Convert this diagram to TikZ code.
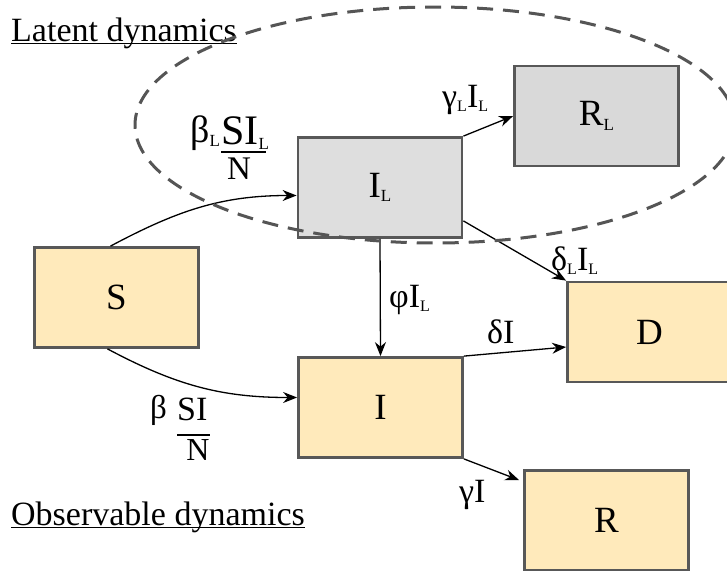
\documentclass[tikz,border=0pt]{standalone}
\usepackage{fontspec}
\setmainfont{Liberation Serif}
\usetikzlibrary{arrows.meta}
\definecolor{peach}{HTML}{FFEABB}
\definecolor{latgrayA}{HTML}{DEDEDE}
\definecolor{latgrayB}{HTML}{D9D9D9}
\definecolor{boxline}{HTML}{585858}
\definecolor{ellline}{HTML}{555555}
\newcommand\lsub[1]{\raisebox{-0.12em}{\fontsize{#1}{#1}\selectfont L}}
\tikzset{
  compbox/.style={draw=boxline, line width=2.8pt, minimum width=164pt, minimum height=100pt, inner sep=0pt, font=\fontsize{37}{42}\selectfont},
  obsbox/.style={compbox, fill=peach},
  latbox/.style={compbox, fill=latgrayA},
  flow/.style={-{Stealth[length=14pt,width=11pt]}, line width=1.3pt},
  flowlab/.style={inner sep=0pt, anchor=base west, font=\fontsize{34}{38}\selectfont},
  title/.style={inner sep=0pt, anchor=base west, font=\fontsize{34}{40}\selectfont},
  ell/.style={draw=ellline, line width=3pt, dash pattern=on 16pt off 10pt}
}
\begin{document}
\begin{tikzpicture}[x=1pt, y=-1pt]
\clip (0,0) rectangle (727,570);
\fill[white] (0,0) rectangle (727,570);
% boxes
\node[obsbox] (S) at (116.5,297.5) {S};
\node[latbox] (IL) at (380,187.5) {I\lsub{17}};
\node[latbox, fill=latgrayB] (RL) at (596.5,116) {R\lsub{17}};
\node[obsbox] (D) at (649.5,332) {D};
\node[obsbox] (I) at (380.5,407.5) {I};
\node[obsbox] (R) at (606.5,520.5) {R};
% titles
\node[title] (lat) at (11,41) {Latent dynamics};
\draw[line width=1.4pt] ([yshift=-2.5pt]lat.base west) -- ([yshift=-2.5pt]lat.base east);
\node[title] (obs) at (11,525) {Observable dynamics};
\draw[line width=1.4pt] ([yshift=-2.5pt]obs.base west) -- ([yshift=-2.5pt]obs.base east);
% flows
\draw[flow] ([xshift=-6pt]S.north) to[out=28,in=180] ([yshift=-8pt]IL.west);
\draw[flow] ([xshift=-9pt]S.south) to[out=-28,in=180] ([yshift=10pt]I.west);
\draw[flow] (IL.south) -- (I.north);
\draw[flow] (IL.north east) -- (RL.west);
\draw[flow] ([yshift=18pt]IL.south east) -- (D.north west);
\draw[flow] (I.north east) -- ([yshift=-15pt]D.west);
\draw[flow] (I.south east) -- ([yshift=-11pt,xshift=-4pt]R.north west);
% flow labels
\node[flowlab] (gL) at (442,107) {γ\lsub{16}I\lsub{16}};
\node[flowlab] (dL) at (551,270) {δ\lsub{16}I\lsub{16}};
\node[flowlab] (phi) at (389,307) {φI\lsub{16}};
\node[flowlab] (dI) at (487,343) {δI};
\node[flowlab] (gI) at (459,502) {γI};
% infection labels
\node[inner sep=0pt, anchor=base west, font=\fontsize{38}{40}\selectfont] (bL) at (190,142) {β\lsub{17}};
\node[inner sep=0pt, anchor=base west, font=\fontsize{42}{44}\selectfont] (numL) at (221,144) {SI\lsub{17}};
\draw[line width=1.3pt] ([yshift=-8pt]numL.base west) -- ([yshift=-8pt,xshift=-3pt]numL.base east);
\node[inner sep=0pt, anchor=base, font=\fontsize{33}{36}\selectfont] (denL) at (239,179) {N};
\node[inner sep=0pt, anchor=base west, font=\fontsize{33}{36}\selectfont] (bO) at (150,418) {β};
\node[inner sep=0pt, anchor=base west, font=\fontsize{34}{36}\selectfont] (numO) at (177,420) {SI};
\draw[line width=1.3pt] ([yshift=-15pt]numO.base west) -- ([yshift=-15pt,xshift=2pt]numO.base east);
\node[inner sep=0pt, anchor=base, font=\fontsize{32}{36}\selectfont] (denO) at (198,460) {N};
% latent ellipse
\draw[ell] (435,125) ellipse [x radius=300pt, y radius=118pt];
\end{tikzpicture}
\end{document}
